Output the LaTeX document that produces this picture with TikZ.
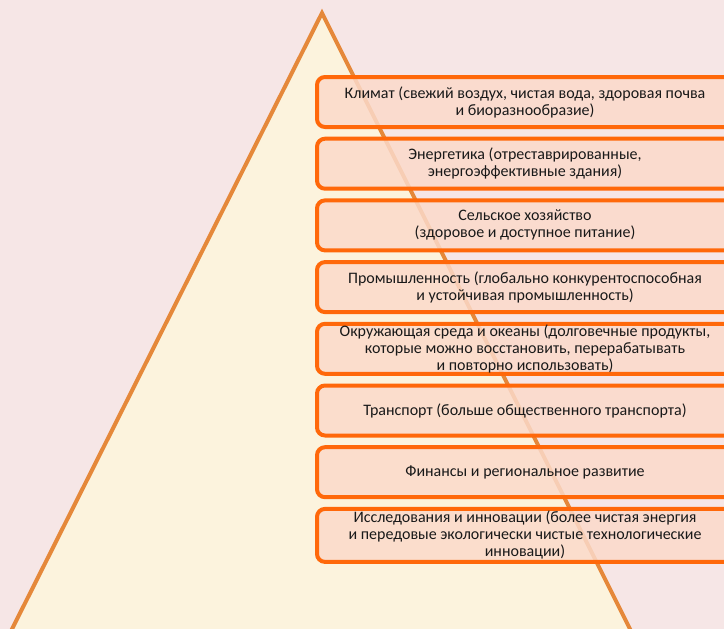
\documentclass[tikz,border=0pt]{standalone}
\usepackage{fontspec}
\setmainfont{Carlito}
\usetikzlibrary{positioning}
\definecolor{pagebg}{RGB}{246,230,230}
\definecolor{pyrfill}{RGB}{252,243,221}
\definecolor{pyredge}{RGB}{229,136,58}
\definecolor{boxedge}{RGB}{255,104,10}
\definecolor{boxfill}{RGB}{251,218,202}
\definecolor{txt}{RGB}{25,25,25}
\begin{document}
\begin{tikzpicture}[x=1pt,y=-1pt,
  area/.style={line width=4pt,rounded corners=8pt,draw=boxedge,fill=boxfill,
    fill opacity=0.85,text opacity=1,text=txt,minimum width=416pt,
    minimum height=50pt,align=center,inner sep=0pt,
    font=\fontsize{16}{17}\selectfont},
  node distance=7.7pt]
  % background and pyramid
  \fill[pagebg] (0,0) rectangle (724,629);
  \useasboundingbox (0,0) rectangle (724,629);
  \filldraw[fill=pyrfill,draw=pyredge,line width=4pt,line join=miter]
    (322,13) -- (635.5,640) -- (6.5,640) -- cycle;
  % sectors
  \node[area,anchor=north west] (klimat) at (315,75)
    {Климат (свежий воздух, чистая вода, здоровая почва\\и биоразнообразие)};
  \node[area,below=of klimat] (energ)
    {Энергетика (отреставрированные,\\энергоэффективные здания)};
  \node[area,below=of energ] (agro)
    {Сельское хозяйство\\(здоровое и доступное питание)};
  \node[area,below=of agro] (prom)
    {Промышленность (глобально конкурентоспособная\\и устойчивая промышленность)};
  \node[area,below=of prom] (sreda)
    {Окружающая среда и океаны (долговечные продукты,\\которые можно восстановить, перерабатывать\\и повторно использовать)};
  \node[area,below=of sreda] (trans)
    {Транспорт (больше общественного транспорта)};
  \node[area,below=of trans] (fin)
    {Финансы и региональное развитие};
  \node[area,below=of fin,minimum height=53pt] (nauka)
    {Исследования и инновации (более чистая энергия\\и передовые экологически чистые технологические\\инновации)};
\end{tikzpicture}
\end{document}
